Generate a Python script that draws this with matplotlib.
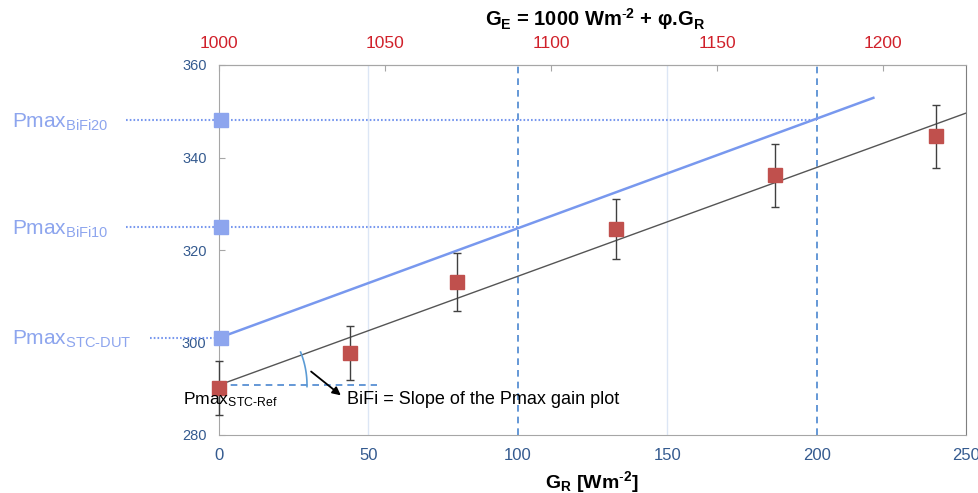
import numpy as np
import matplotlib
matplotlib.use("Agg")
import matplotlib.pyplot as plt

plt.rcParams['font.family'] = ['Liberation Sans', 'DejaVu Sans']
plt.rcParams['mathtext.fontset'] = 'custom'
plt.rcParams['mathtext.rm'] = 'Liberation Sans'
plt.rcParams['mathtext.it'] = 'Liberation Sans:italic'
plt.rcParams['mathtext.bf'] = 'Liberation Sans:bold'

# ---- data ----
gr = [0, 44, 79.5, 133, 186, 240]
pmax_meas = [290.2, 297.7, 313.1, 324.5, 336.2, 344.6]
pmax_err = [5.8, 5.9, 6.3, 6.5, 6.8, 6.8]
fit_x = [0, 250]
fit_y = [290.8, 349.6]
dut_x = [0, 219]
dut_y = [301.0, 352.9]
bifi_x = [0, 0, 0]
bifi_y = [301.0, 325.0, 348.2]
bifi_names = ['STC-DUT', 'BiFi10', 'BiFi20']
bifi_ref_gr = [0, 100, 200]
phi = 0.9
xticks = [0, 50, 100, 150, 200, 250]
yticks = [280, 300, 320, 340, 360]
top_ticks = [1000, 1050, 1100, 1150, 1200]

W, H = 979, 493
fig = plt.figure(figsize=(W / 100, H / 100), dpi=100)
L, R, T, B = 219, 966, 65, 435
ax = fig.add_axes([L / W, 1 - B / H, (R - L) / W, (B - T) / H])
ax.set_xlim(0, 250)
ax.set_ylim(280, 360)
pxx = (R - L) / 250.0
pxy = (B - T) / 80.0

blue_lbl = '#8DA5EE'
blue_line = '#7898EE'
dash_blue = '#4A86D0'
red = '#C0504D'
tick_blue = '#345A8F'
top_red = '#D0202A'

# grid lines
for gx in [50, 150]:
    ax.axvline(gx, color='#DCE6F5', lw=1, zorder=0)
for gx in [100, 200]:
    ax.axvline(gx, color=dash_blue, lw=1.2, ls=(0, (4, 3)), zorder=1)

# lines
ax.plot(fit_x, fit_y, color='#555555', lw=1, zorder=2)
ax.plot(dut_x, dut_y, color=blue_line, lw=1.8, zorder=2)

# dotted reference lines
dot = (0, (0.8, 1.0))
ax.plot([-23, 0], [bifi_y[0], bifi_y[0]], color=blue_line, lw=1.5, ls=dot, clip_on=False, zorder=2)
for yy, xe in zip(bifi_y[1:], bifi_ref_gr[1:]):
    ax.plot([-31, xe], [yy, yy], color=blue_line, lw=1.5, ls=dot, clip_on=False, zorder=2)

# horizontal dashed line at intercept
ax.plot([0, 53], [fit_y[0], fit_y[0]], color=dash_blue, lw=1.2, ls=(0, (4, 3)), zorder=2)

# arc
ang = np.radians(np.linspace(-1, 22, 30))
r = 88
ax.plot(r * np.cos(ang) / pxx, fit_y[0] + r * np.sin(ang) / pxy, color='#5B9BD5', lw=1.2, zorder=3)

# arrow
ax.annotate('', xy=(41.5, 288.2), xytext=(30.1, 294.1),
            arrowprops=dict(arrowstyle='-|>', color='black', lw=1.3, mutation_scale=12), zorder=4)

# measured points
ax.errorbar(gr, pmax_meas, yerr=pmax_err, fmt='s', color=red, ms=9.5,
            ecolor='#404040', elinewidth=1, capsize=3, capthick=1, zorder=5, clip_on=False)

# bifi squares
ax.plot([b + 0.8 for b in bifi_x], bifi_y, 's', color=blue_lbl, ms=10, clip_on=False, zorder=6)

# spines
for s in ['left', 'top', 'bottom']:
    ax.spines[s].set_color('#A6A6A6')
ax.spines['right'].set_color('#7F7F7F')

ax.set_xticks(xticks)
ax.set_yticks(yticks)
ax.tick_params(axis='both', direction='in', length=4, color='#A6A6A6', labelcolor=tick_blue)
ax.tick_params(axis='x', pad=9, length=0, labelsize=12)
ax.tick_params(axis='y', pad=9, labelsize=10.5)

sec = ax.secondary_xaxis('top', functions=(lambda g: 1000 + phi * g, lambda e: (e - 1000) / phi))
sec.set_xticks(top_ticks)
sec.tick_params(direction='in', length=4, color='#A6A6A6', labelcolor=top_red, labelsize=12.5, pad=10)
sec.spines['top'].set_color('#A6A6A6')

# texts
fig.text(595 / W, 1 - 26 / H, r'G$_{\mathbf{E}}$ = 1000 Wm$^{\mathbf{\text{-}2}}$ + φ.G$_{\mathbf{R}}$',
         ha='center', va='baseline', fontsize=14.5, fontweight='bold')
fig.text(592 / W, 1 - 488 / H, r'G$_{\mathbf{R}}$ [Wm$^{\mathbf{\text{-}2}}$]',
         ha='center', va='baseline', fontsize=14, fontweight='bold')

lbl_base = [345, 235, 128]
for name, yb in zip(bifi_names, lbl_base):
    sub = name.replace('-', r'\text{-}')
    fig.text(12 / W, 1 - yb / H, 'Pmax$_{\\mathrm{' + sub + '}}$',
             ha='left', va='baseline', fontsize=15, color=blue_lbl)

fig.text(183 / W, 1 - 404 / H, r'Pmax$_{\mathrm{STC\text{-}Ref}}$', ha='left', va='baseline', fontsize=12.6, color='black')
fig.text(347 / W, 1 - 404 / H, 'BiFi = Slope of the Pmax gain plot', ha='left', va='baseline', fontsize=13, color='black')

fig.savefig('out.png', dpi=100)
